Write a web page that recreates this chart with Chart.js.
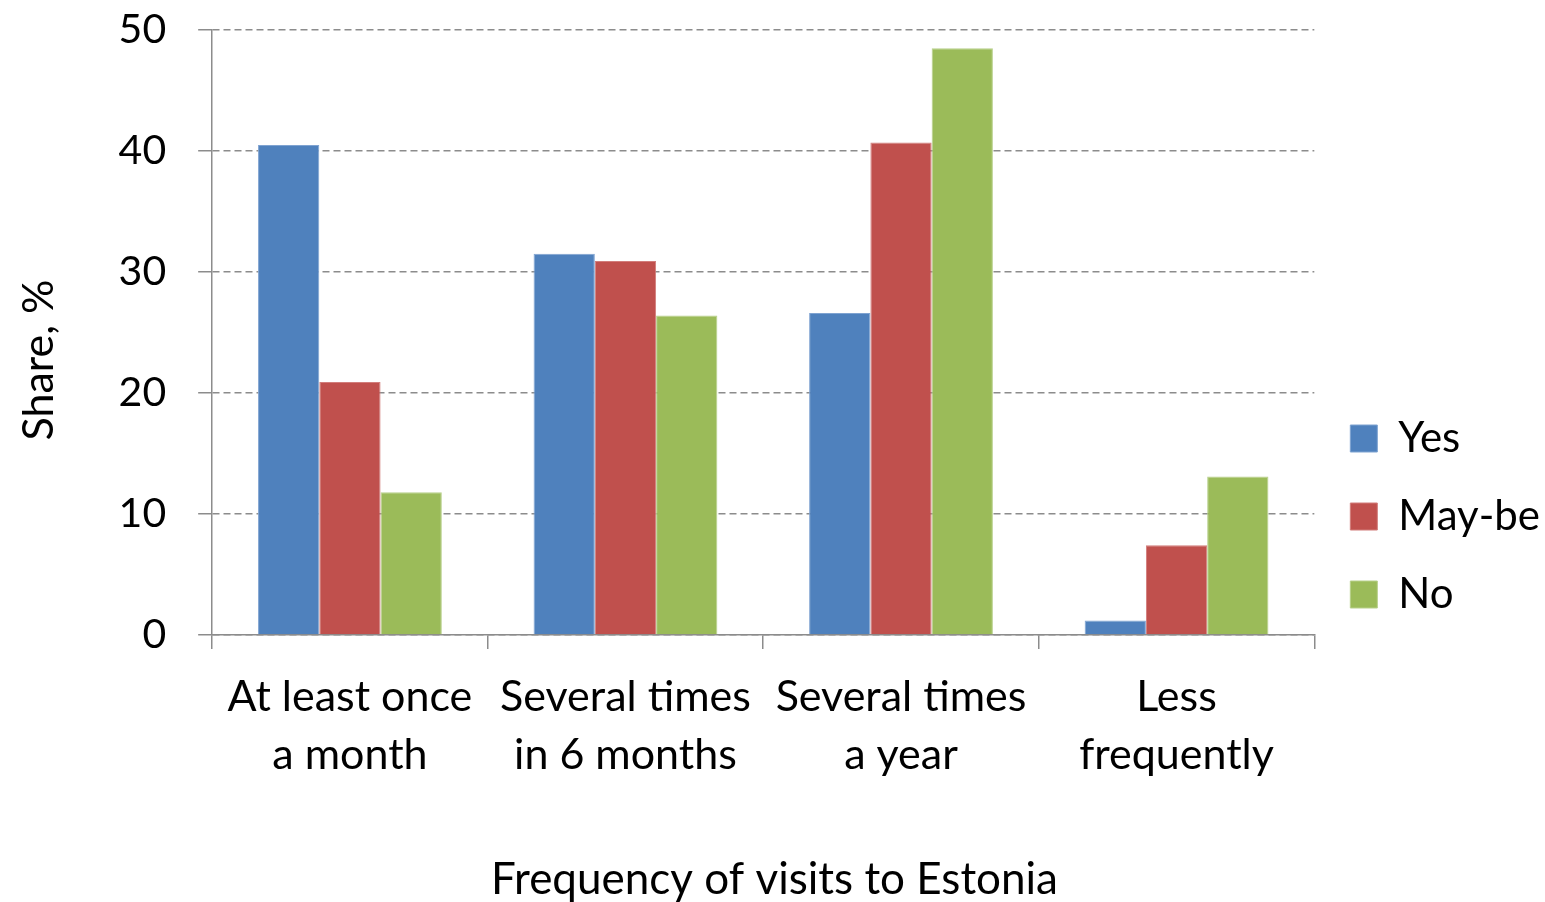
<!DOCTYPE html>
<html>
<head>
<meta charset="utf-8">
<script src="https://cdn.jsdelivr.net/npm/chart.js@4.4.1/dist/chart.umd.min.js"></script>
<style>
  html, body { margin: 0; padding: 0; background: #fff; }
</style>
</head>
<body>
<canvas id="graficoVisitas" width="1545" height="902"></canvas>
<script>
const categorias = [['At least once', 'a month'], ['Several times', 'in 6 months'], ['Several times', 'a year'], ['Less', 'frequently']];
const yes = [40.5, 31.5, 26.6, 1.2];
const maybe = [20.9, 30.9, 40.7, 7.4];
const no = [11.8, 26.4, 48.5, 13.1];
const yTicks = [0, 10, 20, 30, 40, 50];

const fuente = 'Lato, "Open Sans", sans-serif';
const gris = '#8c8c8c';

const ctx = document.getElementById('graficoVisitas').getContext('2d');
new Chart(ctx, {
    type: 'bar',
    data: {
        labels: categorias,
        datasets: [
            { label: 'Yes', data: yes, backgroundColor: '#4f81bd', borderColor: '#7fa3d1', borderWidth: 1 },
            { label: 'May-be', data: maybe, backgroundColor: '#c0504d', borderColor: '#d27d7b', borderWidth: 1 },
            { label: 'No', data: no, backgroundColor: '#9bbb59', borderColor: '#b7d08a', borderWidth: 1 }
        ]
    },
    options: {
        responsive: false,
        animation: false,
        layout: { padding: { left: 13, right: -5, top: 30, bottom: 0 } },
        datasets: { bar: { categoryPercentage: 0.667, barPercentage: 1.0 } },
        plugins: {
            tooltip: { enabled: false },
            legend: {
                position: 'right',
                title: { display: true, text: ' ', padding: { top: 77, bottom: 0 }, font: { size: 20 } },
                labels: {
                    color: '#000',
                    font: { family: fuente, size: 42 },
                    boxWidth: 27,
                    boxHeight: 27,
                    padding: 36
                }
            }
        },
        scales: {
            x: {
                grid: { drawOnChartArea: false, drawTicks: true, tickLength: 14, color: gris, lineWidth: 1.5, offset: true },
                border: { color: gris, width: 1.5 },
                ticks: { color: '#000', font: { family: fuente, size: 43, lineHeight: 1.35 }, padding: 19, maxRotation: 0, autoSkip: false },
                title: { display: true, text: '  Frequency of visits to Estonia', color: '#000', font: { family: fuente, size: 44, lineHeight: 1.0 }, padding: { top: 55, bottom: 0 } }
            },
            y: {
                min: 0,
                max: 50,
                afterBuildTicks: axis => { axis.ticks = yTicks.map(v => ({ value: v })); },
                // labels may overhang the plot edges; layout padding handles the room
                afterFit: axis => { axis.paddingTop = 0; axis.paddingBottom = 0; },
                grid: { color: gris, lineWidth: 1.5, drawTicks: true, tickLength: 14, tickColor: gris },
                border: { color: gris, width: 1.5, dash: [7, 4] },
                ticks: { color: '#000', font: { family: fuente, size: 41, lineHeight: 1.0 }, padding: 32 },
                title: { display: true, text: 'Share, %     ', color: '#000', font: { family: fuente, size: 43 }, padding: { top: 0, bottom: 22 } }
            }
        }
    }
});
</script>
</body>
</html>
